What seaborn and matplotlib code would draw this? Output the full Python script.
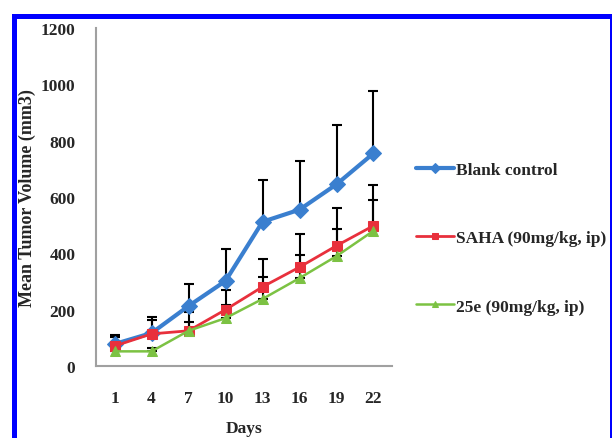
import numpy as np
import pandas as pd
import seaborn as sns
import matplotlib.pyplot as plt
from matplotlib.patches import Rectangle
from matplotlib.ticker import FixedLocator

# values
days = ["1", "4", "7", "10", "13", "16", "19", "22"]
blank = [78, 117, 213, 302, 512, 555, 645, 755]
blank_err = [32, 57, 78, 113, 148, 173, 210, 220]
saha = [71, 114, 125, 200, 281, 351, 427, 498]
saha_err = [32, 49, 65, 70, 99, 118, 134, 145]
e25 = [52, 52, 125, 170, 238, 312, 390, 480]
e25_err = [13, 12, 30, 45, 78, 82, 96, 110]

labels = ["Blank control", "SAHA (90mg/kg, ip)", "25e (90mg/kg, ip)"]
colors = ["#3a7fcf", "#e8303c", "#7cc243"]
markers = ["D", "s", "^"]
msizes = [8, 7, 7]
widths = [3.0, 2.0, 1.8]

sns.set_style("white")
plt.rcParams["font.family"] = ["Liberation Serif", "DejaVu Serif"]
plt.rcParams["font.weight"] = "bold"

fig = plt.figure(figsize=(6.12, 4.39), dpi=100)
ax = fig.add_axes([0.157, 0.164, 0.4835, 0.770])

series = [(blank, blank_err), (saha, saha_err), (e25, e25_err)]

# error bars (upper only) first so lines sit on top
for (vals, err) in series:
    ax.errorbar(days, vals, yerr=[np.zeros(len(err)), err], fmt="none",
                ecolor="black", elinewidth=1.5, capsize=3.5, capthick=1.5, zorder=2)

for (vals, err), lab, c, m, ms, lw in zip(series, labels, colors, markers, msizes, widths):
    df = pd.DataFrame({"day": days, "vol": vals})
    sns.lineplot(data=df, x="day", y="vol", ax=ax, color=c, marker=m, markersize=ms,
                 markeredgecolor=c, linewidth=lw, label=lab, sort=False, zorder=3)

ax.set_ylim(0, 1200)
ax.set_yticks(range(0, 1201, 200))
ax.set_xlim(-0.5, len(days) - 0.5)
ax.xaxis.set_minor_locator(FixedLocator(np.arange(0.5, len(days), 1.0)))
ax.tick_params(axis="x", which="major", length=0, pad=17, labelsize=12.5)
ax.tick_params(axis="x", which="minor", length=5, width=1.2, color="#a0a0a0", direction="out")
ax.tick_params(axis="y", length=5, width=1.2, color="#a0a0a0", pad=10, labelsize=12.5)

for s in ["top", "right"]:
    ax.spines[s].set_visible(False)
for s in ["left", "bottom"]:
    ax.spines[s].set_color("#a0a0a0")
    ax.spines[s].set_linewidth(1.5)

ax.set_xlabel("Days", fontsize=12.5, fontweight="bold", labelpad=10)
ax.set_ylabel("Mean Tumor Volume (mm3)", fontsize=13, fontweight="bold")
ax.yaxis.set_label_coords(-0.202, 0.5)

leg = ax.legend(loc="center left", bbox_to_anchor=(0.668, 0.455), bbox_transform=fig.transFigure,
                frameon=False, fontsize=12.5, labelspacing=3.0, handlelength=2.2,
                handletextpad=0.1, borderaxespad=0)
for h in leg.legend_handles:
    h.set_markersize(5)

# blue frame around the figure
fig.add_artist(Rectangle((13.5 / 612, -0.1), (611.5 - 13.5) / 612, 1.0624,
                         transform=fig.transFigure, fill=False, edgecolor="#0000ff",
                         linewidth=3.6, clip_on=False))

fig.savefig("out.png", dpi=100)
